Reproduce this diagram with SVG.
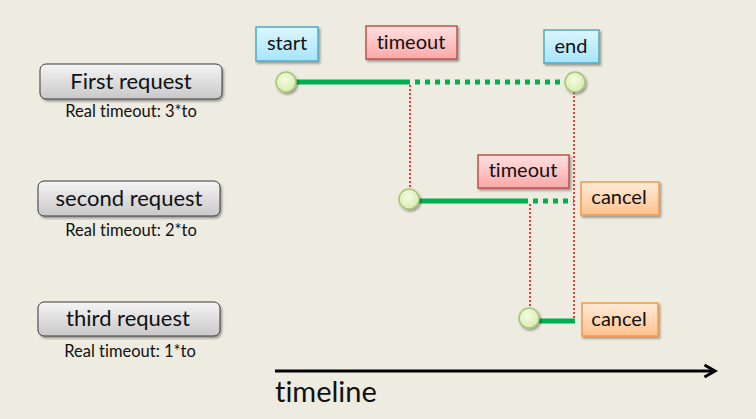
<svg xmlns="http://www.w3.org/2000/svg" width="756" height="419" viewBox="0 0 756 419">
<style>
text{font-family:Lato,"Liberation Sans",sans-serif;fill:#111;font-variant-ligatures:none}
.btn{fill:url(#gGray);stroke:#3a3a3a;stroke-width:1}
.bl{font-size:22px;text-anchor:middle}
.sub{font-size:16.5px;text-anchor:middle}
.lb{font-size:20px;text-anchor:middle}
.blue{fill:url(#gBlue);stroke:#4BACC6;stroke-width:1.5}
.red{fill:url(#gRed);stroke:#C0504D;stroke-width:1.5}
.org{fill:url(#gOrg);stroke:#F79646;stroke-width:1.5}
.dot{fill:url(#gGreen);stroke:#A6C47A;stroke-width:1.5}
.solid{stroke:#00B050;stroke-width:5;fill:none}
.dash{stroke:#00B050;stroke-width:5;stroke-dasharray:5 5;fill:none}
.rd{stroke:#F00000;stroke-width:1.5;stroke-dasharray:2 2;fill:none}
</style>
<defs>
<linearGradient id="gGray" x1="0" y1="0" x2="0" y2="1"><stop offset="0" stop-color="#F5F5F5"/><stop offset="1" stop-color="#C8C8C8"/></linearGradient>
<linearGradient id="gBlue" x1="0" y1="0" x2="0" y2="1"><stop offset="0" stop-color="#DDF6FF"/><stop offset="1" stop-color="#A6E4FA"/></linearGradient>
<linearGradient id="gRed" x1="0" y1="0" x2="0" y2="1"><stop offset="0" stop-color="#FFE0E0"/><stop offset="1" stop-color="#FBA8A8"/></linearGradient>
<linearGradient id="gOrg" x1="0" y1="0" x2="0" y2="1"><stop offset="0" stop-color="#FFEBD9"/><stop offset="1" stop-color="#FFC28E"/></linearGradient>
<radialGradient id="gGreen" cx="0.45" cy="0.4" r="0.6"><stop offset="0" stop-color="#F5FBE4"/><stop offset="1" stop-color="#D8EDAE"/></radialGradient>
<filter id="sh" x="-20%" y="-20%" width="140%" height="150%"><feDropShadow dx="1.5" dy="2" stdDeviation="1.2" flood-color="#000" flood-opacity="0.35"/></filter>
<marker id="ar" viewBox="0 0 10 10" refX="8" refY="5" markerWidth="5" markerHeight="5" orient="auto"><path d="M1,1 L8,5 L1,9" fill="none" stroke="#000" stroke-width="2"/></marker>
</defs>
<rect width="756" height="419" fill="#EEEBE0"/>

<g id="connectors">
<line class="solid" x1="296" y1="82" x2="410" y2="82"/>
<line class="dash" x1="415" y1="82" x2="565" y2="82"/>
<line class="rd" x1="410" y1="85" x2="410" y2="190"/>
<line class="rd" x1="574" y1="92" x2="574" y2="320"/>
<line class="solid" x1="419" y1="201" x2="528" y2="201"/>
<line class="dash" x1="533" y1="201" x2="574" y2="201"/>
<line class="rd" x1="530" y1="204" x2="530" y2="310"/>
<line class="solid" x1="539" y1="321" x2="575" y2="321"/>
<line x1="275" y1="371" x2="715" y2="371" stroke="#000" stroke-width="3" marker-end="url(#ar)"/>
</g>

<g id="first-request">
<rect class="btn" x="40" y="64" width="182" height="35" rx="6" filter="url(#sh)"/>
<text class="bl" x="131" y="89">First request</text>
<text class="sub" x="131" y="117">Real timeout: 3*to</text>
</g>
<g id="second-request">
<rect class="btn" x="38" y="181" width="182" height="35" rx="6" filter="url(#sh)"/>
<text class="bl" x="129" y="206">second request</text>
<text class="sub" x="131" y="236">Real timeout: 2*to</text>
</g>
<g id="third-request">
<rect class="btn" x="38" y="302" width="182" height="34" rx="6" filter="url(#sh)"/>
<text class="bl" x="128" y="326">third request</text>
<text class="sub" x="130" y="357">Real timeout: 1*to</text>
</g>

<g id="start">
<rect class="blue" x="256" y="27" width="62" height="34" filter="url(#sh)"/>
<text class="lb" x="287" y="50">start</text>
</g>
<g id="timeout1">
<rect class="red" x="366" y="26" width="91" height="33" filter="url(#sh)"/>
<text class="lb" x="411" y="49">timeout</text>
</g>
<g id="end">
<rect class="blue" x="544" y="30" width="55" height="33" filter="url(#sh)"/>
<text class="lb" x="571" y="53">end</text>
</g>
<g id="timeout2">
<rect class="red" x="478" y="155" width="91" height="33" filter="url(#sh)"/>
<text class="lb" x="523" y="177">timeout</text>
</g>
<g id="cancel1">
<rect class="org" x="581" y="182" width="78" height="33" filter="url(#sh)"/>
<text class="lb" x="619" y="204">cancel</text>
</g>
<g id="cancel2">
<rect class="org" x="582" y="303" width="76" height="33" filter="url(#sh)"/>
<text class="lb" x="619" y="326">cancel</text>
</g>

<g id="circle1"><circle class="dot" cx="286" cy="82" r="10" filter="url(#sh)"/></g>
<g id="circle2"><circle class="dot" cx="575" cy="82" r="10" filter="url(#sh)"/></g>
<g id="circle3"><circle class="dot" cx="409" cy="199" r="10" filter="url(#sh)"/></g>
<g id="circle4"><circle class="dot" cx="529" cy="318" r="10" filter="url(#sh)"/></g>

<g id="timeline-label"><text x="275" y="402" font-size="29">timeline</text></g>
</svg>
